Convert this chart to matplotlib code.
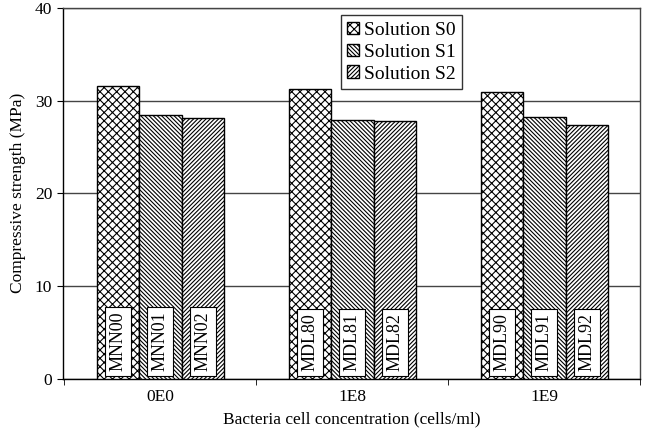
import numpy as np
import matplotlib.pyplot as plt

plt.rcParams['font.family'] = ['Liberation Serif']
plt.rcParams['hatch.linewidth'] = 0.8

categories = ['0E0', '1E8', '1E9']
series = ['Solution S0', 'Solution S1', 'Solution S2']
s0 = [31.6, 31.2, 30.9]
s1 = [28.4, 27.9, 28.2]
s2 = [28.1, 27.8, 27.4]
labels = [['MNN00', 'MDL80', 'MDL90'],
          ['MNN01', 'MDL81', 'MDL91'],
          ['MNN02', 'MDL82', 'MDL92']]
hatches = ['xxxx', '\\' * 8, '/' * 8]

fig, ax = plt.subplots(figsize=(6.45, 4.36), dpi=100)
fig.subplots_adjust(left=0.097, right=0.993, top=0.982, bottom=0.131)

x = np.arange(len(categories))
w = 0.22
for i, vals in enumerate([s0, s1, s2]):
    pos = x + (i - 1) * w
    ax.bar(pos, vals, w, color='white', edgecolor='black', hatch=hatches[i],
           linewidth=1.0, label=series[i], zorder=3)
    for p, lab in zip(pos, labels[i]):
        ax.text(p, 0.8, lab, rotation=90, ha='center', va='bottom', fontsize=13,
                zorder=4, bbox=dict(facecolor='white', edgecolor='black',
                                    linewidth=0.8, boxstyle='square,pad=0.25'))

ax.set_xlim(-0.51, 2.49)
ax.set_ylim(0, 40)
ax.set_yticks([0, 10, 20, 30, 40])
ax.set_xticks(x)
ax.set_xticklabels(categories, fontsize=12.5)
ax.set_xticks([-0.5, 0.5, 1.5, 2.5], minor=True)
ax.tick_params(axis='x', which='major', length=0, pad=7)
ax.tick_params(axis='x', which='minor', length=4, direction='out')
ax.tick_params(axis='y', labelsize=12.5, length=4, direction='out')
ax.yaxis.grid(True, color='#444444', linewidth=1.0, zorder=0)
for s in ax.spines.values():
    s.set_linewidth(1.0)
    s.set_color('#444444')
ax.spines['left'].set_color('black')
ax.spines['bottom'].set_color('black')

ax.set_xlabel('Bacteria cell concentration (cells/ml)', fontsize=12.5, labelpad=5)
ax.set_ylabel('Compressive strength (MPa)', fontsize=12.5, labelpad=6)

leg = ax.legend(loc='upper left', bbox_to_anchor=(0.481, 0.981), fontsize=14,
                frameon=True, fancybox=False, handlelength=0.6, handleheight=0.6,
                handletextpad=0.25, borderpad=0.35, labelspacing=0.25,
                borderaxespad=0)
leg.get_frame().set_edgecolor('black')
leg.get_frame().set_linewidth(1.0)

plt.savefig('out.png', dpi=100)
